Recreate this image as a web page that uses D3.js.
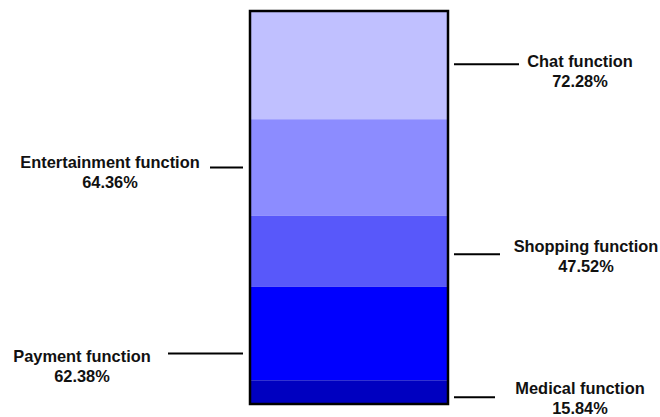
<!DOCTYPE html>
<html>
<head>
<meta charset="utf-8">
<script src="https://cdn.jsdelivr.net/npm/d3@7"></script>
<style>
  html, body { margin: 0; padding: 0; background: #ffffff; }
  svg { display: block; }
  text { font-family: "Liberation Sans", Arial, sans-serif; font-weight: bold; font-size: 16.4px; fill: #111; }
</style>
</head>
<body>
<svg id="chart" width="660" height="417"></svg>
<script>
// ---- data ----
const categories = ["Chat function", "Entertainment function", "Shopping function", "Payment function", "Medical function"];
const values = [72.28, 64.36, 47.52, 62.38, 15.84];
const valueLabels = ["72.28%", "64.36%", "47.52%", "62.38%", "15.84%"];

// ---- layout (annotation placement) ----
const colors = ["#c0c0ff", "#8c8cff", "#5858fa", "#0000ff", "#0000c0"];
const labelSide = ["right", "left", "right", "left", "right"];
const labelCenterX = [580, 110, 586, 82, 580];
const leaderOuterX = [519, 210, 500, 168, 495];
const leaderNudge = [-1, 0, 3, 20, 5];
const textBaseline = [67, 168, 252, 362, 394];

const svg = d3.select("#chart");
const bar = { left: 250, right: 448, top: 11, bottom: 404 };
const total = d3.sum(values);
const y = d3.scaleLinear().domain([0, total]).range([bar.top, bar.bottom]);

const cum = values.map((v, i) => ({ i, v, start: d3.sum(values.slice(0, i)), end: d3.sum(values.slice(0, i + 1)) }));

svg.append("g").selectAll("rect").data(cum).join("rect")
  .attr("x", bar.left)
  .attr("width", bar.right - bar.left)
  .attr("y", d => y(d.start))
  .attr("height", d => y(d.end) - y(d.start))
  .attr("fill", d => colors[d.i]);

svg.append("rect")
  .attr("x", bar.left).attr("y", bar.top)
  .attr("width", bar.right - bar.left).attr("height", bar.bottom - bar.top)
  .attr("fill", "none").attr("stroke", "#000").attr("stroke-width", 2.5);

const g = svg.append("g");
cum.forEach(d => {
  const mid = (y(d.start) + y(d.end)) / 2 + leaderNudge[d.i];
  const right = labelSide[d.i] === "right";
  const x1 = right ? bar.right + 6 : bar.left - 7;
  g.append("line")
    .attr("x1", x1).attr("x2", leaderOuterX[d.i])
    .attr("y1", mid).attr("y2", mid)
    .attr("stroke", "#000").attr("stroke-width", 2);
  const t = g.append("text")
    .attr("x", labelCenterX[d.i])
    .attr("y", textBaseline[d.i])
    .attr("text-anchor", "middle");
  t.append("tspan").attr("x", labelCenterX[d.i]).text(categories[d.i]);
  t.append("tspan").attr("x", labelCenterX[d.i]).attr("dy", 20).text(valueLabels[d.i]);
});
</script>
</body>
</html>
